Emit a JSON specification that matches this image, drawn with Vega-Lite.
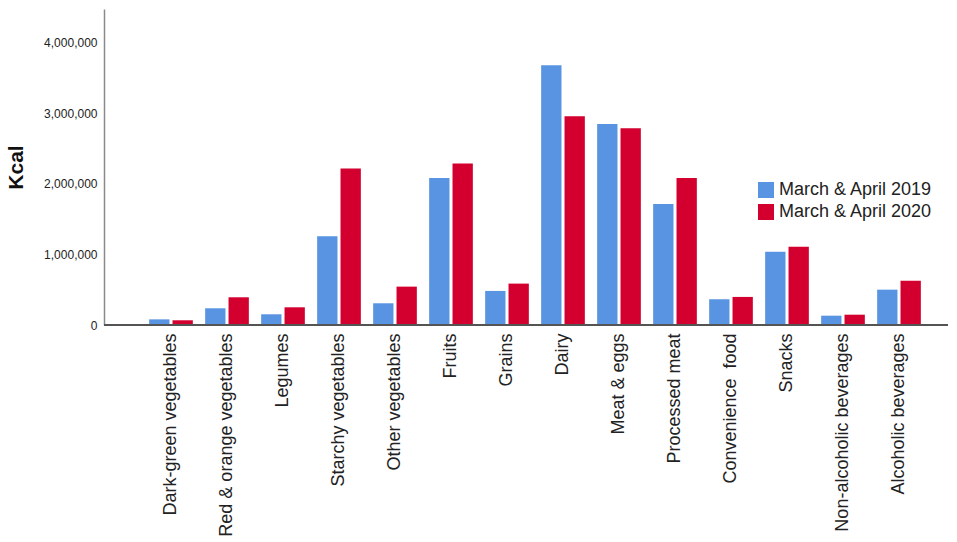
{
  "$schema": "https://vega.github.io/schema/vega-lite/v6.json",
  "width": 844,
  "height": 316,
  "autosize": "none",
  "padding": {"left": 104, "top": 9, "right": 9, "bottom": 217},
  "background": "white",
  "config": {
    "view": {"stroke": null},
    "font": "Liberation Sans",
    "axis": {"grid": false, "labelColor": "#222222", "titleColor": "#111111"}
  },
  "data": {
    "values": [
      {"category": "Dark-green vegetables", "period": "March & April 2019", "kcal": 80000},
      {"category": "Dark-green vegetables", "period": "March & April 2020", "kcal": 67000},
      {"category": "Red & orange vegetables", "period": "March & April 2019", "kcal": 237000},
      {"category": "Red & orange vegetables", "period": "March & April 2020", "kcal": 393000},
      {"category": "Legumes", "period": "March & April 2019", "kcal": 152000},
      {"category": "Legumes", "period": "March & April 2020", "kcal": 251000},
      {"category": "Starchy vegetables", "period": "March & April 2019", "kcal": 1260000},
      {"category": "Starchy vegetables", "period": "March & April 2020", "kcal": 2220000},
      {"category": "Other vegetables", "period": "March & April 2019", "kcal": 308000},
      {"category": "Other vegetables", "period": "March & April 2020", "kcal": 544000},
      {"category": "Fruits", "period": "March & April 2019", "kcal": 2084000},
      {"category": "Fruits", "period": "March & April 2020", "kcal": 2291000},
      {"category": "Grains", "period": "March & April 2019", "kcal": 483000},
      {"category": "Grains", "period": "March & April 2020", "kcal": 587000},
      {"category": "Dairy", "period": "March & April 2019", "kcal": 3683000},
      {"category": "Dairy", "period": "March & April 2020", "kcal": 2959000},
      {"category": "Meat & eggs", "period": "March & April 2019", "kcal": 2851000},
      {"category": "Meat & eggs", "period": "March & April 2020", "kcal": 2789000},
      {"category": "Processed meat", "period": "March & April 2019", "kcal": 1714000},
      {"category": "Processed meat", "period": "March & April 2020", "kcal": 2084000},
      {"category": "Convenience \u00a0food", "period": "March & April 2019", "kcal": 365000},
      {"category": "Convenience \u00a0food", "period": "March & April 2020", "kcal": 398000},
      {"category": "Snacks", "period": "March & April 2019", "kcal": 1037000},
      {"category": "Snacks", "period": "March & April 2020", "kcal": 1108000},
      {"category": "Non-alcoholic beverages", "period": "March & April 2019", "kcal": 132000},
      {"category": "Non-alcoholic beverages", "period": "March & April 2020", "kcal": 146000},
      {"category": "Alcoholic beverages", "period": "March & April 2019", "kcal": 501000},
      {"category": "Alcoholic beverages", "period": "March & April 2020", "kcal": 629000}
    ]
  },
  "layer": [
    {
      "mark": {"type": "bar"},
      "encoding": {
        "x": {
          "field": "category",
          "type": "nominal",
          "sort": null,
          "scale": {"range": [39, 823], "paddingInner": 0.22, "paddingOuter": 0.11},
          "axis": {
            "title": null,
            "domain": false,
            "ticks": false,
            "labelAngle": -90,
            "labelAlign": "right",
            "labelBaseline": "middle",
            "labelPadding": 8,
            "labelFontSize": 18,
            "labelLimit": 0
          }
        },
        "xOffset": {
          "field": "period",
          "type": "nominal",
          "scale": {"paddingInner": 0.13}
        },
        "y": {
          "field": "kcal",
          "type": "quantitative",
          "scale": {"domain": [0, 4480000], "nice": false},
          "axis": {
            "title": "Kcal",
            "values": [0, 1000000, 2000000, 3000000, 4000000],
            "format": ",d",
            "ticks": false,
            "labelPadding": 7,
            "labelFontSize": 12,
            "domainColor": "#8a8a8a",
            "domainWidth": 1.5,
            "titleFontSize": 21,
            "titleFontWeight": "bold",
            "titleAngle": -90,
            "titleX": -88,
            "titleY": 158,
            "titleAlign": "center",
            "titleBaseline": "middle"
          }
        },
        "color": {
          "field": "period",
          "type": "nominal",
          "scale": {
            "domain": ["March & April 2019", "March & April 2020"],
            "range": ["#5894e1", "#d3002f"]
          },
          "legend": {
            "title": null,
            "orient": "none",
            "legendX": 653,
            "legendY": 172,
            "symbolType": "square",
            "symbolSize": 256,
            "symbolStrokeWidth": 0,
            "symbolOpacity": 1,
            "labelFontSize": 18,
            "labelColor": "#222222",
            "labelOffset": 4,
            "rowPadding": 4
          }
        }
      }
    },
    {
      "mark": {"type": "rule", "color": "#555555", "strokeWidth": 1.5},
      "encoding": {"y": {"datum": 0}}
    }
  ]
}
